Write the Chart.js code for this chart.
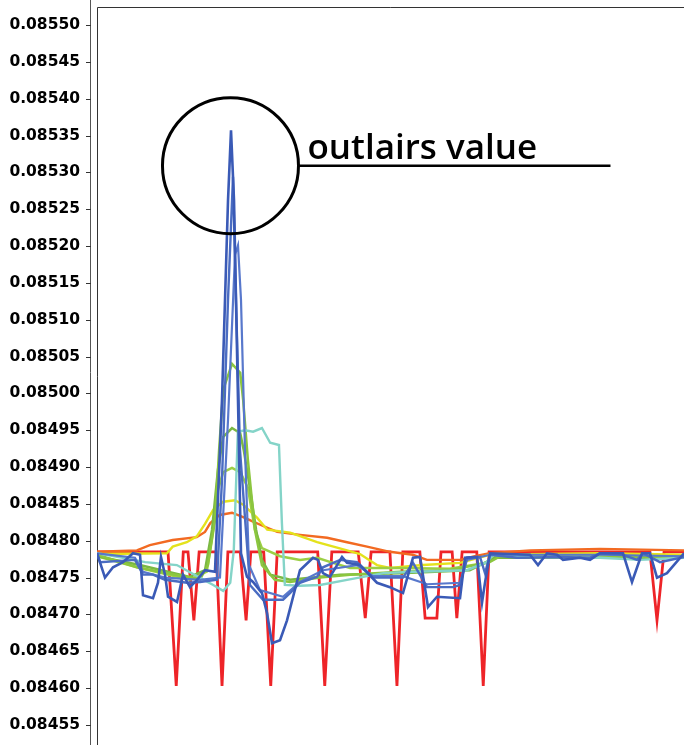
<!DOCTYPE html>
<html>
<head>
<meta charset="utf-8">
<script src="https://cdn.jsdelivr.net/npm/chart.js@4/dist/chart.umd.min.js"></script>
<style>
  html, body { margin: 0; padding: 0; background: #ffffff; }
  #wrap { width: 684px; height: 745px; }
</style>
</head>
<body>
<div id="wrap"><canvas id="c" width="684" height="745"></canvas></div>
<script>
// ---- axis ----
const Y_MIN = 0.0845228;
const Y_MAX = 0.0855339;
const yTickValues = [0.08455,0.08460,0.08465,0.08470,0.08475,0.08480,0.08485,0.08490,0.08495,0.08500,
                     0.08505,0.08510,0.08515,0.08520,0.08525,0.08530,0.08535,0.08540,0.08545,0.08550];
const X_MIN = 0, X_MAX = 100;

// ---- series (x = position along run, y = value) ----
const redX = [0,12.1,13.5,14.7,15.5,16.5,17.4,20.3,21.3,22.3,24.4,25.4,26.2,28.4,29.6,30.7,37.6,38.8,40.0,44.5,45.7,46.7,49.9,51.1,52.1,55.0,55.9,57.9,58.6,60.5,61.3,62.2,64.7,65.8,66.8,94.2,95.4,96.6,100];
const redY = [0.084785,0.084785,0.084603,0.084785,0.084785,0.084692,0.084785,0.084785,0.084603,0.084785,0.084785,0.084692,0.084785,0.084785,0.084603,0.084785,0.084785,0.084603,0.084785,0.084785,0.084695,0.084785,0.084785,0.084603,0.084785,0.084785,0.084695,0.084695,0.084785,0.084785,0.084695,0.084785,0.084785,0.084603,0.084785,0.084785,0.084692,0.084785,0.084785];

const orangeX = [0,6.8,9.0,12.9,17.0,18.4,19.3,20.9,23.0,24.9,26.6,28.3,30.7,34.6,39.2,42.6,46.0,49.9,53.8,56.2,61.8,64.4,66.9,73.8,85.7,100];
const orangeY = [0.084785,0.084787,0.084794,0.084801,0.084805,0.084812,0.084824,0.084835,0.084838,0.084832,0.084826,0.084820,0.084812,0.084808,0.084804,0.084798,0.084792,0.084785,0.084781,0.084774,0.084774,0.084779,0.084783,0.084787,0.084789,0.084787];

const yellowX = [0,11.9,12.9,15.3,17.0,18.4,19.8,21.5,23.5,24.9,27.3,29.0,32.9,37.5,42.6,44.8,47.7,49.9,55.5,61.8,65.2,66.9,85.7,100];
const yellowY = [0.084782,0.084783,0.084792,0.084798,0.084806,0.084823,0.084842,0.084853,0.084855,0.084849,0.084831,0.084815,0.084811,0.084798,0.084787,0.084782,0.084767,0.084763,0.084767,0.084770,0.084777,0.084781,0.084783,0.084781];

const tealX = [0,4.4,8.2,13.6,17.5,19.8,21.5,22.7,23.3,24.0,25.2,26.6,28.1,29.5,31.0,31.5,32.0,34.6,38.0,42.6,48.8,53.8,63.0,66.4,67.5,73.8,85.7,92.5,100];
const tealY = [0.084783,0.084777,0.084771,0.084767,0.084750,0.084740,0.084732,0.084743,0.084787,0.084948,0.084950,0.084948,0.084953,0.084933,0.084930,0.084824,0.084740,0.084739,0.084740,0.084747,0.084756,0.084758,0.084760,0.084771,0.084781,0.084778,0.084777,0.084774,0.084777];

const green1X = [0,6.8,15.8,17.5,18.9,20.1,20.8,21.5,23.0,24.4,24.9,25.7,26.9,28.1,30.3,32.9,38.0,43.1,51.6,60.1,66.9,68.7,100];
const green1Y = [0.084781,0.084764,0.084750,0.084747,0.084767,0.084828,0.084923,0.085005,0.085040,0.085028,0.084991,0.084910,0.084815,0.084767,0.084747,0.084744,0.084750,0.084754,0.084758,0.084760,0.084771,0.084779,0.084778];

const green2X = [0,7.3,15.8,18.4,19.6,20.6,21.5,23.0,24.4,25.0,26.1,27.1,28.1,29.5,32.9,41.4,51.6,63.5,67.8,100];
const green2Y = [0.084779,0.084767,0.084751,0.084760,0.084815,0.084896,0.084941,0.084953,0.084946,0.084923,0.084869,0.084815,0.084774,0.084754,0.084747,0.084754,0.084756,0.084760,0.084777,0.084777];

const green3X = [0,7.3,15.8,18.7,19.8,20.6,21.5,23.0,24.4,25.7,26.9,28.1,31.2,34.6,37.5,40.2,43.1,51.6,60.1,66.4,67.8,100];
const green3Y = [0.084779,0.084763,0.084747,0.084758,0.084815,0.084869,0.084893,0.084899,0.084893,0.084872,0.084815,0.084790,0.084779,0.084774,0.084777,0.084770,0.084763,0.084763,0.084762,0.084770,0.084778,0.084779];

const blue1X = [0,1.36,2.73,4.43,6.13,7.33,7.84,9.54,10.39,10.90,11.58,12.10,13.63,14.65,15.84,17.04,18.40,20.10,21.29,22.32,22.83,23.34,24.02,24.53,25.55,26.58,28.11,28.96,29.81,31.18,32.37,34.58,36.80,37.65,38.50,39.69,41.74,42.59,44.80,47.70,49.91,52.13,53.83,55.03,56.39,57.92,61.84,62.69,64.74,65.59,66.10,66.95,73.76,75.13,76.66,78.36,79.39,82.28,83.99,85.69,89.61,91.14,92.84,94.21,95.40,97.10,100];
const blue1Y = [0.084783,0.084750,0.084764,0.084771,0.084783,0.084781,0.084726,0.084722,0.084743,0.084778,0.084754,0.084724,0.084717,0.084754,0.084737,0.084747,0.084760,0.084758,0.084991,0.085262,0.085357,0.085262,0.084991,0.084783,0.084751,0.084744,0.084729,0.084702,0.084661,0.084665,0.084692,0.084760,0.084777,0.084774,0.084756,0.084751,0.084778,0.084770,0.084767,0.084743,0.084737,0.084729,0.084777,0.084778,0.084710,0.084724,0.084722,0.084777,0.084778,0.084716,0.084743,0.084783,0.084781,0.084767,0.084783,0.084781,0.084774,0.084777,0.084774,0.084783,0.084783,0.084744,0.084783,0.084783,0.084750,0.084756,0.084783];

const blue2X = [0,0.51,6.47,7.84,9.54,11.58,15.33,17.55,20.44,21.29,22.32,23.17,23.68,24.36,26.06,28.28,31.69,32.88,34.58,37.48,38.50,41.40,44.29,47.02,52.13,53.83,56.22,60.65,61.84,63.03,65.25,66.10,66.95,71.55,78.88,83.99,85.69,89.61,91.99,93.02,95.91,100];
const blue2Y = [0.084783,0.084771,0.084774,0.084754,0.084754,0.084747,0.084743,0.084744,0.084747,0.084882,0.085127,0.085294,0.085127,0.084923,0.084740,0.084720,0.084720,0.084729,0.084743,0.084751,0.084764,0.084774,0.084771,0.084750,0.084750,0.084770,0.084737,0.084737,0.084740,0.084777,0.084778,0.084756,0.084781,0.084777,0.084778,0.084777,0.084783,0.084781,0.084774,0.084783,0.084771,0.084778];

const blue3X = [0,6.47,7.84,11.58,17.55,20.95,22.32,23.51,24.02,24.53,25.21,25.89,27.77,31.69,34.58,38.50,44.29,47.02,52.13,56.22,61.84,63.03,66.95,85.69,100];
const blue3Y = [0.084783,0.084777,0.084758,0.084750,0.084747,0.084750,0.084964,0.085188,0.085201,0.085127,0.084923,0.084767,0.084733,0.084724,0.084744,0.084760,0.084767,0.084752,0.084752,0.084741,0.084743,0.084774,0.084781,0.084781,0.084779];

// annotation target (the outlier)
const OUTLIER_X = 22.74;
const OUTLIER_Y = 0.085309;
const ANNOTATION_TEXT = 'outlairs value';

function pts(xs, ys) { return xs.map((x, i) => ({ x: x, y: ys[i] })); }

// first listed = drawn on top
const seriesList = [
  { name: 'blue1',  xs: blue1X,  ys: blue1Y,  color: '#3a5ab6', w: 2.6 },
  { name: 'blue2',  xs: blue2X,  ys: blue2Y,  color: '#4a6cc2', w: 2.4 },
  { name: 'blue3',  xs: blue3X,  ys: blue3Y,  color: '#5878cc', w: 2.2 },
  { name: 'teal',   xs: tealX,   ys: tealY,   color: '#84d4c8', w: 2.4 },
  { name: 'green1', xs: green1X, ys: green1Y, color: '#8cc63f', w: 2.5 },
  { name: 'green2', xs: green2X, ys: green2Y, color: '#7ab843', w: 2.5 },
  { name: 'green3', xs: green3X, ys: green3Y, color: '#9ccf44', w: 2.5 },
  { name: 'yellow', xs: yellowX, ys: yellowY, color: '#e4e21c', w: 2.4 },
  { name: 'orange', xs: orangeX, ys: orangeY, color: '#f26a22', w: 2.4 },
  { name: 'red',    xs: redX,    ys: redY,    color: '#ee2428', w: 2.8 }
];

const framePlugin = {
  id: 'frame',
  beforeDatasetsDraw(chart) {
    const ctx = chart.ctx, a = chart.chartArea, ys = chart.scales.y;
    ctx.save();
    const axX = a.left - 7;
    ctx.strokeStyle = '#555555';
    ctx.lineWidth = 1;
    ctx.beginPath();
    ctx.moveTo(axX + 0.5, a.top);
    ctx.lineTo(axX + 0.5, a.bottom);
    ctx.stroke();
    ctx.strokeStyle = '#333333';
    yTickValues.forEach(v => {
      const py = Math.round(ys.getPixelForValue(v)) + 0.5;
      ctx.beginPath();
      ctx.moveTo(axX - 4, py);
      ctx.lineTo(axX + 1, py);
      ctx.stroke();
    });
    ctx.strokeStyle = '#333333';
    ctx.beginPath();
    ctx.moveTo(a.left + 0.5, a.bottom);
    ctx.lineTo(a.left + 0.5, a.top + 7.5);
    ctx.lineTo(a.right, a.top + 7.5);
    ctx.stroke();
    ctx.restore();
  }
};

const annotationPlugin = {
  id: 'outlierNote',
  afterDatasetsDraw(chart) {
    const ctx = chart.ctx, xs = chart.scales.x, ys = chart.scales.y;
    const cx = xs.getPixelForValue(OUTLIER_X);
    const cy = ys.getPixelForValue(OUTLIER_Y);
    const r = 68;
    ctx.save();
    ctx.strokeStyle = '#000000';
    ctx.lineWidth = 3;
    ctx.beginPath();
    ctx.arc(cx, cy, r, 0, Math.PI * 2);
    ctx.stroke();
    ctx.lineWidth = 2.5;
    ctx.beginPath();
    ctx.moveTo(cx + r, cy);
    ctx.lineTo(cx + r + 312, cy);
    ctx.stroke();
    ctx.fillStyle = '#000000';
    ctx.font = '600 35px "Open Sans"';
    ctx.textAlign = 'left';
    ctx.textBaseline = 'alphabetic';
    ctx.fillText(ANNOTATION_TEXT, cx + r + 9, cy - 7);
    ctx.restore();
  }
};

new Chart(document.getElementById('c'), {
  type: 'line',
  data: {
    datasets: seriesList.map(s => ({
      label: s.name,
      data: pts(s.xs, s.ys),
      borderColor: s.color,
      backgroundColor: s.color,
      borderWidth: s.w,
      pointRadius: 0,
      tension: 0,
      fill: false
    }))
  },
  options: {
    responsive: false,
    animation: false,
    devicePixelRatio: 1,
    layout: { padding: 0 },
    plugins: { legend: { display: false }, tooltip: { enabled: false }, title: { display: false } },
    scales: {
      x: { type: 'linear', min: X_MIN, max: X_MAX, display: false },
      y: {
        type: 'linear',
        min: Y_MIN,
        max: Y_MAX,
        afterBuildTicks: s => { s.ticks = yTickValues.map(v => ({ value: v })); },
        afterFit: s => { s.width = 97; s.paddingTop = 0; s.paddingBottom = 0; },
        grid: { display: false, drawTicks: false },
        border: { display: false },
        ticks: {
          padding: 17,
          color: '#000000',
          font: { family: '"DejaVu Sans"', size: 15.5, weight: 'bold' },
          callback: v => Number(v).toFixed(5)
        }
      }
    }
  },
  plugins: [framePlugin, annotationPlugin]
});
</script>
</body>
</html>
